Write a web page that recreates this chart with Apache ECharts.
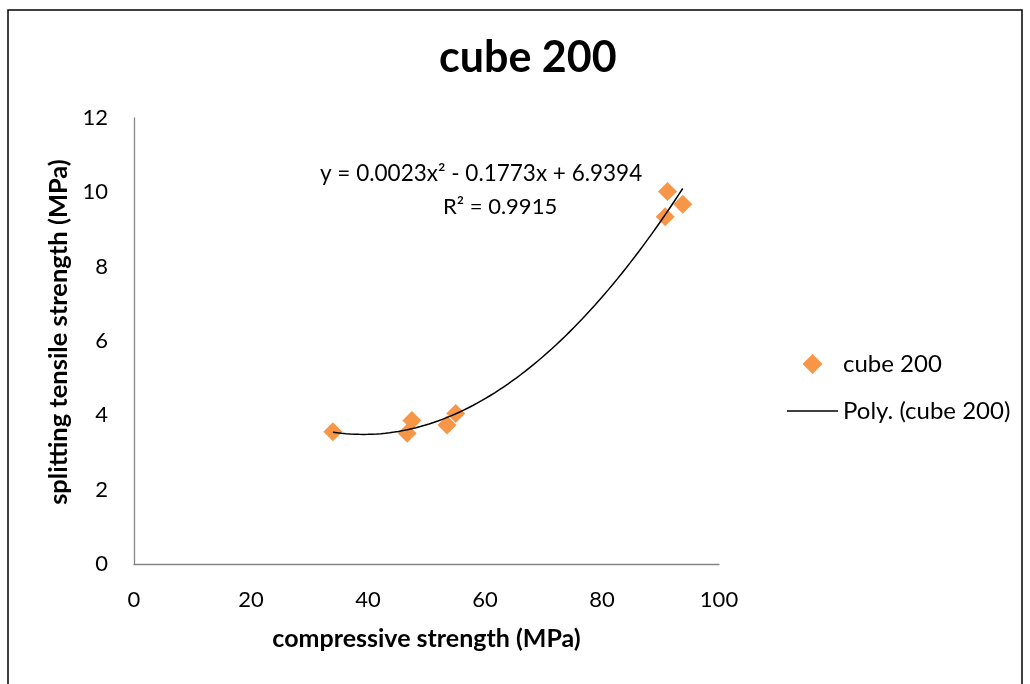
<!DOCTYPE html>
<html>
<head>
<meta charset="utf-8">
<script src="https://cdn.jsdelivr.net/npm/echarts@6/dist/echarts.min.js"></script>
<style>
html,body{margin:0;padding:0;background:#fff;}
#c{width:1030px;height:684px;}
</style>
</head>
<body>
<div id="c"></div>
<script>
// Data
var compressive = [34.0, 46.7, 47.5, 53.5, 55.0, 90.8, 91.2, 93.8];
var tensile     = [3.56, 3.52, 3.86, 3.74, 4.05, 9.34, 10.02, 9.68];
var xTicks = [0, 20, 40, 60, 80, 100];
var yTicks = [0, 2, 4, 6, 8, 10, 12];
var titleText = 'cube 200';
var seriesName = 'cube 200';
var trendName = 'Poly. (cube 200)';
var equationText = 'y = 0.0023x² - 0.1773x + 6.9394';
var r2Text = 'R² = 0.9915';

// Least-squares quadratic trendline (as Excel's polynomial trendline)
function polyfit2(xs, ys) {
  var n = xs.length, S = [0,0,0,0,0], T = [0,0,0];
  for (var i = 0; i < n; i++) {
    var p = 1;
    for (var k = 0; k < 5; k++) { S[k] += p; if (k < 3) T[k] += p * ys[i]; p *= xs[i]; }
  }
  var A = [[S[0],S[1],S[2],T[0]],[S[1],S[2],S[3],T[1]],[S[2],S[3],S[4],T[2]]];
  for (var c = 0; c < 3; c++) {
    for (var r = c + 1; r < 3; r++) {
      var f = A[r][c] / A[c][c];
      for (var j = c; j < 4; j++) A[r][j] -= f * A[c][j];
    }
  }
  var b = [0,0,0];
  for (var r2 = 2; r2 >= 0; r2--) {
    var s = A[r2][3];
    for (var j2 = r2 + 1; j2 < 3; j2++) s -= A[r2][j2] * b[j2];
    b[r2] = s / A[r2][r2];
  }
  return b; // c0, c1, c2
}
var coef = polyfit2(compressive, tensile);
var xmin = Math.min.apply(null, compressive), xmax = Math.max.apply(null, compressive);
var trend = [];
for (var i = 0; i <= 80; i++) {
  var x = xmin + (xmax - xmin) * i / 80;
  trend.push([x, coef[0] + coef[1] * x + coef[2] * x * x]);
}

var FONT = 'Lato, "Noto Sans", sans-serif';
var chart = echarts.init(document.getElementById('c'));
chart.setOption({
  backgroundColor: '#ffffff',
  animation: false,
  title: {
    text: titleText, left: 434, top: 32,
    textStyle: { fontFamily: FONT, fontSize: 43, fontWeight: 'bold', color: '#000' }
  },
  grid: { left: 134, right: 311, top: 118, bottom: 120 },
  xAxis: {
    type: 'value', min: 0, max: 100, interval: 20,
    name: 'compressive strength (MPa)', nameLocation: 'middle', nameGap: 62,
    nameTextStyle: { fontFamily: FONT, fontSize: 25, fontWeight: 'bold', color: '#000' },
    axisLine: { lineStyle: { color: '#868686', width: 1.3 } },
    axisTick: { show: false },
    splitLine: { show: false },
    axisLabel: { fontFamily: FONT, fontSize: 22, color: '#000', margin: 25,
      formatter: function (v) { return xTicks.indexOf(v) >= 0 ? String(v) : ''; } }
  },
  yAxis: {
    type: 'value', min: 0, max: 12, interval: 2,
    name: 'splitting tensile strength (MPa)', nameLocation: 'middle', nameGap: 62,
    nameTextStyle: { fontFamily: FONT, fontSize: 25.5, fontWeight: 'bold', color: '#000',
      padding: [0, 0, 0, 18] },
    axisLine: { show: true, lineStyle: { color: '#868686', width: 1.3 } },
    axisTick: { show: false },
    splitLine: { show: false },
    axisLabel: { fontFamily: FONT, fontSize: 22, color: '#000', margin: 26,
      formatter: function (v) { return yTicks.indexOf(v) >= 0 ? String(v) : ''; } }
  },
  legend: {
    orient: 'vertical', left: 782, top: 347,
    itemWidth: 51, itemHeight: 20, itemGap: 23, symbolKeepAspect: true,
    textStyle: { fontFamily: FONT, fontSize: 24, color: '#000' },
    data: [
      { name: seriesName, icon: 'path://M8,0 L16,8 L8,16 L0,8 Z' },
      { name: trendName, icon: 'path://M0,0 L52,0 L52,1.5 L0,1.5 Z' }
    ]
  },
  series: [
    {
      name: seriesName, type: 'scatter', symbol: 'diamond', symbolSize: 19,
      itemStyle: { color: '#F79646', opacity: 1 },
      data: compressive.map(function (x, i) { return [x, tensile[i]]; }),
      z: 2
    },
    {
      name: trendName, type: 'line', symbol: 'none', smooth: false,
      lineStyle: { color: '#000', width: 1.5 },
      itemStyle: { color: '#000' },
      data: trend, z: 3
    }
  ],
  graphic: [
    { type: 'rect', shape: { x: 8, y: 10, width: 1014, height: 700 },
      style: { fill: 'none', stroke: '#000', lineWidth: 1.5 }, silent: true },
    { type: 'text', left: 320, top: 162,
      style: { text: equationText, font: '22.5px ' + FONT, fill: '#000' } },
    { type: 'text', left: 443, top: 196,
      style: { text: r2Text, font: '22px ' + FONT, fill: '#000' } }
  ]
});
</script>
</body>
</html>
